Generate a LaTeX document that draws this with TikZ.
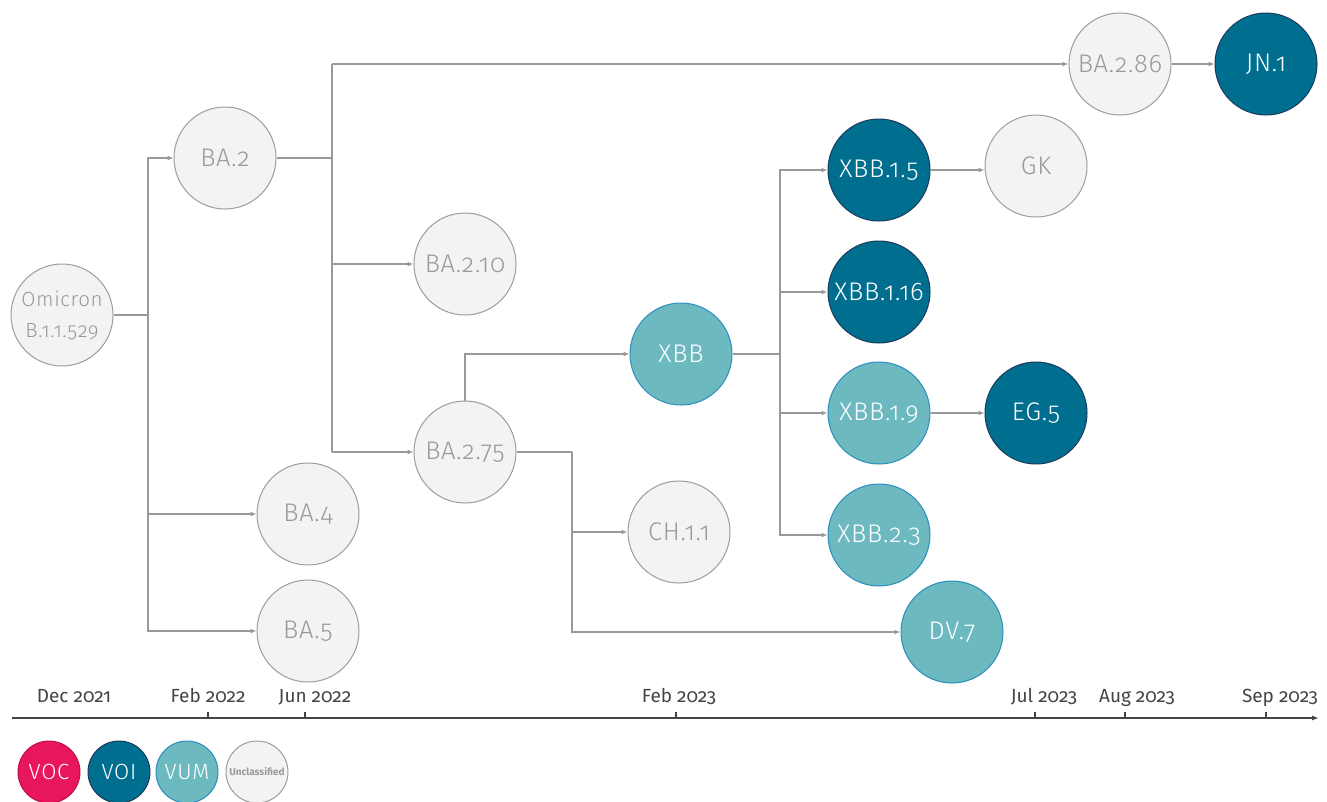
\documentclass[tikz,border=0pt]{standalone}
\usepackage{fontspec}
\setmainfont{Fira Sans}[Numbers=OldStyle]
\newfontfamily\lightfont{Fira Sans Light}[Numbers=OldStyle, LetterSpace=3]
\usetikzlibrary{arrows.meta}
\definecolor{voc}{HTML}{E8175D}
\definecolor{voi}{HTML}{006F8F}
\definecolor{voiedge}{HTML}{1B3A5E}
\definecolor{vum}{HTML}{6CB9BF}
\definecolor{vumedge}{HTML}{2A8EC0}
\definecolor{unc}{HTML}{F2F3F2}
\definecolor{uncedge}{HTML}{9C9C9C}
\definecolor{unctext}{HTML}{9A9A9A}
\definecolor{link}{HTML}{999999}
\definecolor{axis}{HTML}{444444}
\tikzset{
  var/.style={circle, minimum size=102pt, inner sep=0pt, line width=1pt, font=\lightfont\fontsize{25.5}{28}\selectfont, align=center},
  uncl/.style={var, fill=unc, draw=uncedge, text=unctext},
  voistyle/.style={var, fill=voi, draw=voiedge, text=white},
  vumstyle/.style={var, fill=vum, draw=vumedge, text=white},
  leg/.style={circle, minimum size=62pt, inner sep=0pt, line width=1pt, text=white, font=\lightfont\fontsize{22}{24}\selectfont},
  lnk/.style={draw=link, line width=1.4pt},
  arr/.style={lnk, -{Latex[length=6pt,width=5pt]}},
  datelab/.style={text=axis, font=\fontsize{19}{22}\selectfont, anchor=base},
}
\begin{document}
\begin{tikzpicture}[x=1pt,y=-1pt]
\useasboundingbox (0,0) rectangle (1327,801);
% nodes
\node[uncl, font=\lightfont\fontsize{20.5}{31}\selectfont] (om) at (62,315) {Omicron\\B.1.1.529};
\node[uncl] (ba2) at (225,158) {BA.2};
\node[uncl] (ba210) at (465,264) {BA.2.10};
\node[uncl] (ba275) at (465,452) {BA.2.75};
\node[uncl] (ba4) at (308,514) {BA.4};
\node[uncl] (ba5) at (308,631) {BA.5};
\node[vumstyle] (xbb) at (681,354) {XBB};
\node[uncl] (ch) at (679,532) {CH.1.1};
\node[vumstyle] (dv7) at (952,632) {DV.7};
\node[voistyle] (x15) at (879,170) {XBB.1.5};
\node[voistyle] (x116) at (879,292) {XBB.1.16};
\node[vumstyle] (x19) at (879,413) {XBB.1.9};
\node[vumstyle] (x23) at (879,535) {XBB.2.3};
\node[uncl] (gk) at (1036,166) {GK};
\node[voistyle] (eg5) at (1036,413) {EG.5};
\node[uncl] (ba286) at (1120,64) {BA.2.86};
\node[voistyle] (jn1) at (1266,64) {JN.1};
% junctions
\coordinate (j1) at (148,315);
\coordinate (j2) at (332,158);
\coordinate (j2t) at (332,64);
\coordinate (j2b) at (332,452);
\coordinate (j3) at (465,354);
\coordinate (j4) at (572,452);
\coordinate (j5) at (780,354);
% connectors
\draw[lnk] (om) -- (j1);
\draw[arr] (j1) |- (ba2);
\draw[arr] (j1) |- (ba4);
\draw[arr] (j1) |- (ba5);
\draw[lnk] (ba2) -- (j2);
\draw[lnk] (j2t) -- (j2b);
\draw[arr] (j2t) -- (ba286);
\draw[arr] (j2) |- (ba210);
\draw[arr] (j2b) -- (ba275);
\draw[arr] (ba275) -- (j3) -- (xbb);
\draw[lnk] (ba275) -- (j4);
\draw[arr] (j4) |- (ch);
\draw[arr] (j4) |- (dv7);
\draw[lnk] (xbb) -- (j5);
\draw[arr] (j5) |- (x15);
\draw[arr] (j5) |- (x116);
\draw[arr] (j5) |- (x19);
\draw[arr] (j5) |- (x23);
\draw[arr] (x15) -- (x15 -| gk.west);
\draw[arr] (x19) -- (eg5);
\draw[arr] (ba286) -- (jn1);
% time axis
\coordinate (ax0) at (12,718);
\coordinate (ax1) at (1319,718);
\draw[draw=axis, line width=1.3pt, -{Latex[length=7pt,width=5pt]}] (ax0) -- (ax1);
\foreach \xx in {208,305,676,1035,1125,1266}{
  \draw[draw=axis, line width=1.2pt] (\xx,718) -- (\xx,712);
}
\node[datelab] (d1) at (74,702) {Dec 2021};
\node[datelab] (d2) at (208,702) {Feb 2022};
\node[datelab] (d3) at (315,702) {Jun 2022};
\node[datelab] (d4) at (679,702) {Feb 2023};
\node[datelab] (d5) at (1044,702) {Jul 2023};
\node[datelab] (d6) at (1137,702) {Aug 2023};
\node[datelab] (d7) at (1280,702) {Sep 2023};
% legend
\node[leg, fill=voc, draw=voc!80!black] (lvoc) at (49,772) {VOC};
\node[leg, fill=voi, draw=voiedge] (lvoi) at (119,772) {VOI};
\node[leg, fill=vum, draw=vumedge] (lvum) at (187,772) {VUM};
\node[leg, fill=unc, draw=uncedge, text=unctext, font=\fontsize{10}{12}\selectfont\bfseries] (lunc) at (257,772) {Unclassified};
\end{tikzpicture}
\end{document}
